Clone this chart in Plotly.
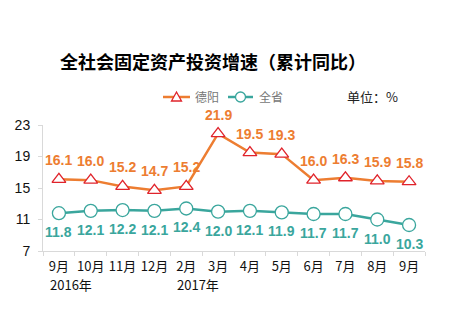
import plotly.graph_objects as go

months = ["9月", "10月", "11月", "12月", "2月", "3月", "4月", "5月", "6月", "7月", "8月", "9月"]
deyang = [16.1, 16.0, 15.2, 14.7, 15.2, 21.9, 19.5, 19.3, 16.0, 16.3, 15.9, 15.8]
quansheng = [11.8, 12.1, 12.2, 12.1, 12.4, 12.0, 12.1, 11.9, 11.7, 11.7, 11.0, 10.3]
y_ticks = [7, 11, 15, 19, 23]
year_labels = [(0, "2016年"), (4, "2017年")]

ORANGE = "#ED7D31"
TEAL = "#3AA69D"
RED = "#E0232B"
NUM_FONT = "Liberation Sans, Arial, sans-serif"
CJK = "Noto Sans CJK SC, sans-serif"

L, R, T, B = 43, 425, 125, 251  # plot area in pixels
W, H = 450, 323


def px(xp):
    return (xp - L) / (R - L)


def py(yp):
    return (B - yp) / (B - T)


x = list(range(len(months)))

fig = go.Figure()
fig.add_trace(go.Scatter(
    x=x, y=deyang, name="德阳", mode="lines+markers",
    line=dict(color=ORANGE, width=2.5),
    marker=dict(symbol="triangle-up", size=12, color="white", line=dict(color=RED, width=1.3)),
    cliponaxis=False, showlegend=False,
))
fig.add_trace(go.Scatter(
    x=x, y=quansheng, name="全省", mode="lines+markers",
    line=dict(color=TEAL, width=2.5),
    marker=dict(symbol="circle", size=13, color="white", line=dict(color=TEAL, width=1.3)),
    cliponaxis=False, showlegend=False,
))

annotations = [
    dict(text="<b>全社会固定资产投资增速（累计同比）</b>", xref="paper", yref="paper",
         x=px(213), y=py(61), xanchor="center", yanchor="middle",
         showarrow=False, font=dict(family=CJK, size=18, color="#000000")),
    dict(text="单位：%", xref="paper", yref="paper",
         x=px(345), y=py(97), xanchor="left", yanchor="middle",
         showarrow=False, font=dict(family=CJK, size=13, color="#222222")),
    dict(text="德阳", xref="paper", yref="paper", x=px(193), y=py(97), xanchor="left",
         yanchor="middle", showarrow=False, font=dict(family=CJK, size=12, color="#777777")),
    dict(text="全省", xref="paper", yref="paper", x=px(257), y=py(97), xanchor="left",
         yanchor="middle", showarrow=False, font=dict(family=CJK, size=12, color="#777777")),
]
for xi, v in zip(x, deyang):
    annotations.append(dict(text=f"<b>{v:.1f}</b>", x=xi, y=v, xref="x", yref="y",
                            yshift=19, xanchor="center", yanchor="middle", showarrow=False,
                            font=dict(family=NUM_FONT, size=14, color=ORANGE)))
for xi, v in zip(x, quansheng):
    annotations.append(dict(text=f"<b>{v:.1f}</b>", x=xi, y=v, xref="x", yref="y",
                            yshift=-19, xanchor="center", yanchor="middle", showarrow=False,
                            font=dict(family=NUM_FONT, size=14, color=TEAL)))
for idx, lab in year_labels:
    annotations.append(dict(text=lab, x=idx, xref="x", yref="paper", y=py(284),
                            xanchor="left", yanchor="middle", xshift=-11, showarrow=False,
                            font=dict(family=CJK, size=13, color="#111111")))

shapes = [
    dict(type="line", xref="paper", yref="paper", x0=px(163), x1=px(190), y0=py(97), y1=py(97),
         line=dict(color=ORANGE, width=2.5)),
    dict(type="path", xref="paper", yref="paper",
         path=f"M {px(176.5-5)} {py(101)} L {px(176.5+5)} {py(101)} L {px(176.5)} {py(92)} Z",
         fillcolor="white", line=dict(color=RED, width=1.3)),
    dict(type="line", xref="paper", yref="paper", x0=px(228), x1=px(253), y0=py(97), y1=py(97),
         line=dict(color=TEAL, width=2.5)),
    dict(type="circle", xref="paper", yref="paper", x0=px(235.5), x1=px(245.5),
         y0=py(102), y1=py(92), fillcolor="white", line=dict(color=TEAL, width=1.3)),
]

fig.update_layout(
    width=W, height=H,
    margin=dict(l=L, r=W - R, t=T, b=H - B),
    paper_bgcolor="white", plot_bgcolor="white",
    showlegend=False,
    annotations=annotations,
    shapes=shapes,
    xaxis=dict(
        tickmode="array", tickvals=x, ticktext=months, range=[-0.5, len(months) - 0.5],
        showline=True, linecolor="#D9D9D9", linewidth=1,
        ticks="", ticklabelstandoff=3,
        minor=dict(tick0=-0.5, dtick=1, ticks="outside", ticklen=4, tickcolor="#D9D9D9",
                   showgrid=False),
        showgrid=False, zeroline=False,
        tickfont=dict(family=CJK, size=13, color="#111111"),
    ),
    yaxis=dict(
        range=[7, 23], tickvals=y_ticks,
        showline=True, linecolor="#D9D9D9", linewidth=1,
        ticks="outside", ticklen=4, tickcolor="#D9D9D9", ticklabelstandoff=5,
        showgrid=False, zeroline=False,
        tickfont=dict(family=NUM_FONT, size=14, color="#111111"),
    ),
)

fig.write_html("out.html")
